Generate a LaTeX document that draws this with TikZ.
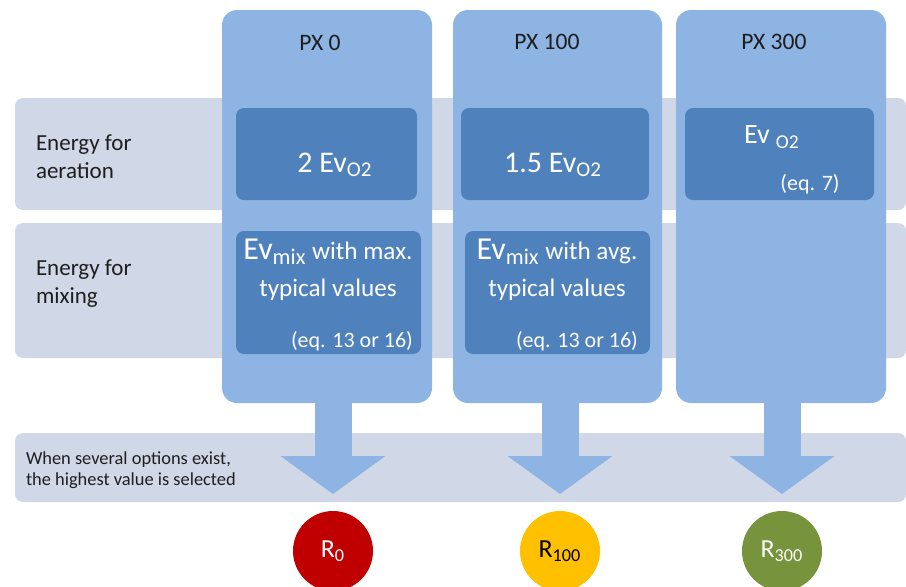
\documentclass[tikz,border=0pt]{standalone}
\usepackage{fontspec}
\setmainfont{Carlito}
\usepackage{xcolor}
\usepackage{tikz}
\usetikzlibrary{arrows.meta, positioning}
\definecolor{bandgrey}{HTML}{D0D8E8}
\definecolor{colblue}{HTML}{8EB4E3}
\definecolor{boxblue}{HTML}{4F81BD}
\definecolor{resred}{HTML}{C00000}
\definecolor{resyellow}{HTML}{FFC000}
\definecolor{resgreen}{HTML}{77933C}
\definecolor{labgrey}{HTML}{1E1E1E}

\begin{document}
\begin{tikzpicture}[x=0.5pt,y=-0.5pt,inner sep=0pt,outer sep=0pt,
  band/.style={fill=bandgrey,rounded corners=4pt,anchor=north west,minimum width=445.5pt},
  column/.style={fill=colblue,rounded corners=7.5pt,anchor=north west,minimum width=105pt,minimum height=196.5pt},
  valbox/.style={fill=boxblue,rounded corners=4pt,anchor=north west},
  rowlab/.style={anchor=west,align=left,text=labgrey,font=\fontsize{11.5}{14}\selectfont},
  header/.style={text=labgrey,font=\fontsize{11.8}{14}\selectfont},
  valbig/.style={text=white,align=center,font=\fontsize{15}{18}\selectfont},
  valmix/.style={text=white,align=center,font=\fontsize{12.6}{18.5}\selectfont},
  valeq/.style={text=white,font=\fontsize{11}{13}\selectfont},
  result/.style={circle,minimum size=40pt,font=\fontsize{13}{15}\selectfont},
  blockarrow/.style={draw=colblue,line width=18.5pt,shorten >=8.5pt,-{Triangle[width=52.5pt,length=19pt,line width=0pt]}}]
\useasboundingbox (0,0) rectangle (906,586);

\node[band,minimum height=56pt] (aer) at (15,98) {};
\node[band,minimum height=67.5pt] (mix) at (15,223) {};
\node[band,minimum height=34.5pt] (sel) at (15,433) {};

\node[rowlab] (aerlab) at (36,157) {Energy for\\aeration};
\node[rowlab] (mixlab) at (36,284) {Energy for\\mixing};
\node[rowlab,font=\fontsize{9.2}{10.8}\selectfont] (sellab) at (26,470) {When several options exist,\\the highest value is selected};

\node[column] (c1) at (222,10) {};
\node[column,minimum width=104.5pt] (c2) at (453,10) {};
\node[column] (c3) at (676,10) {};

\node[header] (h1) at (320,43) {PX 0};
\node[header] (h2) at (547,42) {PX 100};
\node[header] (h3) at (774,42) {PX 300};

\node[valbox,minimum width=90.5pt,minimum height=46pt] (a1) at (236,108) {};
\node[valbox,minimum width=94pt,minimum height=46pt] (a2) at (461,108) {};
\node[valbox,minimum width=94.5pt,minimum height=46pt] (a3) at (685,108) {};
\node[valbox,minimum width=92.5pt,minimum height=61.5pt] (m1) at (236,231) {};
\node[valbox,minimum width=92.5pt,minimum height=61.5pt] (m2) at (465,231) {};

\node[valbig] (a1t) at (335,165) {2 Ev\textsubscript{O2}};
\node[valbig] (a2t) at (553,165) {1.5 Ev\textsubscript{O2}};
\node[valbig,anchor=west,font=\fontsize{14}{16}\selectfont] (a3t) at (744,137) {Ev \textsubscript{O2}};
\node[valeq] (a3e) at (810,184) {(eq. 7)};

\node[valmix] (m1t) at (328,270) {{\fontsize{16}{18.5}\selectfont Ev\textsubscript{mix}} with max.\\typical values};
\node[valeq] (m1e) at (352,341) {(eq. 13 or 16)};
\node[valmix] (m2t) at (557,270) {{\fontsize{16}{18.5}\selectfont Ev\textsubscript{mix}} with avg.\\typical values};
\node[valeq] (m2e) at (577,341) {(eq. 13 or 16)};

\node[result,fill=resred,text=white] (r0) at (333,551) {R\textsubscript{0}};
\node[result,fill=resyellow,text=black] (r100) at (560,551) {R\textsubscript{100}};
\node[result,fill=resgreen,text=white] (r300) at (782,551) {R\textsubscript{300}};

\draw[blockarrow] (r0 |- c1.south) -- (r0.north);
\draw[blockarrow] (r100 |- c2.south) -- (r100.north);
\draw[blockarrow] (r300 |- c3.south) -- (r300.north);
\end{tikzpicture}
\end{document}
